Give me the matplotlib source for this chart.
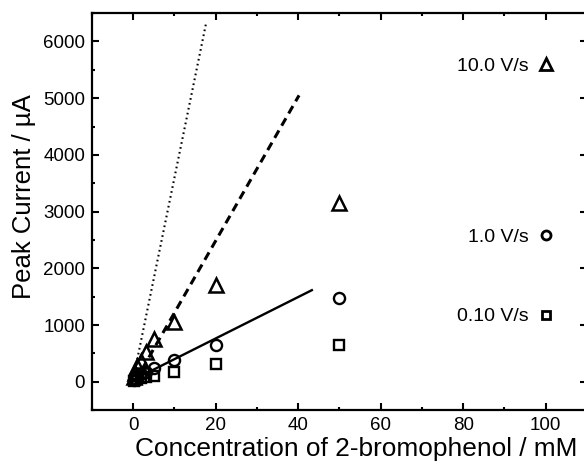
import numpy as np
import matplotlib.pyplot as plt
from matplotlib.ticker import MultipleLocator

plt.rcParams['font.family'] = ['Liberation Sans', 'DejaVu Sans']

# data
conc = [0.1, 0.5, 1, 2, 3, 5, 10, 20, 50]
i_10 = [80, 160, 270, 375, 530, 760, 1050, 1700, 3150]
i_1 = [30, 60, 95, 130, 170, 240, 380, 650, 1480]
i_01 = [20, 30, 45, 60, 80, 105, 180, 310, 640]

# fitted lines (end points)
fit_1_x = [0, 43.3]
fit_1_y = [34, 1615]
fit_10_x = [0.4, 40.2]
fit_10_y = [0, 5050]
fit_100_x = [0, 17.6]
fit_100_y = [50, 6300]

labels = ['10.0 V/s', '1.0 V/s', '0.10 V/s']
label_y = [5600, 2580, 1180]
markers = ['^', 'o', 's']

fig = plt.figure(figsize=(5.84, 4.65), dpi=100)
ax = fig.add_axes([0.1575, 0.118, 0.8476, 0.8538])

ax.plot(fit_1_x, fit_1_y, '-', color='black', lw=1.7)
ax.plot(fit_10_x, fit_10_y, color='black', lw=2.2, dashes=(2.8, 1.8))
ax.plot(fit_100_x, fit_100_y, color='black', lw=1.5, dashes=(0.8, 1.6))

ax.plot(conc, i_10, '^', ms=10.5, mfc='none', mec='black', mew=1.8)
ax.plot(conc, i_1, 'o', ms=8, mfc='none', mec='black', mew=1.7)
ax.plot(conc, i_01, 's', ms=6.5, mfc='none', mec='black', mew=1.7)

ms_small = [8, 6.5, 6]
for lab, y, m, s in zip(labels, label_y, markers, ms_small):
    ax.plot([100], [y], m, ms=s, mfc='none', mec='black', mew=2)
    ax.annotate(lab, (100, y), xytext=(-12, 0), textcoords='offset points',
                ha='right', va='center_baseline', fontsize=14)

ax.set_xlim(-10, 110)
ax.set_ylim(-500, 6500)
ax.xaxis.set_major_locator(MultipleLocator(20))
ax.xaxis.set_minor_locator(MultipleLocator(10))
ax.yaxis.set_major_locator(MultipleLocator(1000))
ax.yaxis.set_minor_locator(MultipleLocator(500))
ax.tick_params(which='both', direction='in', top=True, right=True, width=1.5, labelsize=13.5)
ax.tick_params(which='major', length=5, pad=5)
ax.tick_params(which='minor', length=2)
for sp in ax.spines.values():
    sp.set_linewidth(1.6)

ax.set_xlabel('Concentration of 2-bromophenol / mM', fontsize=18.9)
ax.set_ylabel('Peak Current / µA', fontsize=18.5)
ax.xaxis.set_label_coords(0.533, -0.067)
ax.yaxis.set_label_coords(-0.113, 0.537)

fig.savefig('out.png', dpi=100)
